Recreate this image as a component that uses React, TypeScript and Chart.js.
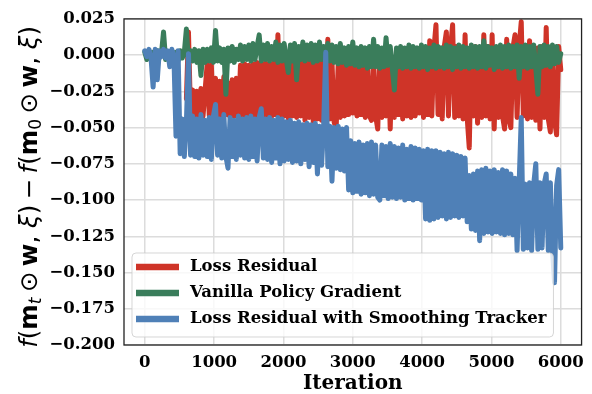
import { useEffect, useRef } from "react";
import { Chart, registerables } from "chart.js";

Chart.register(...registerables);

// Iteration index (one sample every 30 iterations, 0..6000)
const iterations = Array.from({ length: 201 }, (_, i) => i * 30);

const lossResidual: (number | null)[] = [
  null, null, null, null, null, null, null, null, null, null,
  null, null, null, null, null, null, null, null, null, null,
  -0.03, 0.016, -0.042, -0.024, -0.043, -0.025, -0.041, -0.023, -0.042, -0.024,
  -0.006, -0.042, -0.007, -0.043, -0.016, -0.042, -0.018, -0.043, -0.015, -0.041,
  -0.019, -0.043, -0.017, -0.042, -0.016, -0.044, -0.007, -0.042, -0.006, -0.043,
  -0.007, -0.041, -0.006, -0.043, -0.005, -0.042, -0.006, -0.044, -0.005, -0.042,
  -0.006, -0.043, -0.005, -0.041, 0.014, -0.043, -0.006, -0.042, -0.005, -0.044,
  -0.006, -0.042, -0.005, -0.043, -0.006, -0.042, 0.004, -0.045, -0.005, -0.043,
  -0.004, -0.046, 0.003, -0.044, -0.005, -0.045, -0.004, -0.047, 0.011, -0.044,
  -0.004, -0.046, -0.051, -0.005, -0.043, -0.004, -0.042, -0.003, -0.041, -0.004,
  -0.04, -0.003, -0.042, -0.004, -0.041, -0.003, -0.043, -0.002, -0.042, -0.045,
  -0.003, -0.042, -0.051, -0.002, -0.043, -0.003, -0.042, -0.002, -0.051, -0.003,
  -0.043, -0.002, -0.041, -0.001, -0.044, -0.002, -0.042, 0.001, -0.043, 0.002,
  -0.042, 0.001, -0.04, 0.003, -0.043, 0.002, -0.041, 0.01, -0.042, 0.004,
  0.021, -0.041, 0.005, -0.044, 0.006, 0.016, -0.042, 0.005, 0.021, -0.043,
  0.006, -0.042, 0.005, -0.044, 0.014, -0.043, -0.064, 0.005, -0.042, 0.006,
  -0.047, 0.005, -0.043, 0.014, -0.042, 0.006, -0.044, 0.014, -0.051, 0.005,
  -0.043, 0.006, -0.042, -0.051, 0.011, -0.044, -0.05, 0.005, 0.014, -0.043,
  0.006, 0.023, -0.042, 0.005, -0.044, 0.01, -0.043, 0.006, -0.045, 0.005,
  -0.051, 0.006, -0.043, 0.019, -0.044, -0.053, 0.005, -0.045, -0.055, 0.006,
  -0.01,
];

const vanillaPolicyGradient: number[] = [
  0.002, -0.003, 0.003, -0.002, 0.002, -0.003, 0.003, -0.002, 0.001, 0.016,
  -0.003, 0.002, -0.004, 0.003, -0.003, 0.002, -0.004, 0.003, -0.002, 0.002,
  0.018, -0.005, 0.003, -0.004, 0.004, -0.005, 0.003, -0.014, 0.004, -0.005,
  0.004, -0.004, 0.005, -0.005, 0.017, -0.004, 0.005, -0.005, 0.004, -0.027,
  0.005, -0.004, 0.006, -0.005, 0.004, -0.003, 0.007, -0.004, 0.006, -0.003,
  0.007, -0.004, 0.008, -0.003, 0.006, 0.014, -0.004, 0.007, -0.003, 0.008,
  -0.004, 0.006, -0.003, 0.009, -0.005, 0.007, -0.004, 0.008, -0.003, -0.012,
  0.007, -0.004, 0.008, -0.017, 0.006, -0.003, 0.009, -0.004, 0.007, -0.003,
  0.008, -0.005, 0.007, -0.004, 0.009, -0.003, 0.006, -0.005, 0.008, -0.004,
  0.007, -0.005, 0.006, -0.006, 0.008, -0.005, 0.005, -0.007, 0.006, -0.006,
  0.009, -0.007, 0.005, -0.008, 0.006, -0.007, 0.005, -0.009, 0.006, -0.008,
  0.011, -0.008, 0.006, -0.009, 0.005, -0.008, 0.012, -0.007, 0.006, -0.009,
  -0.024, 0.005, -0.008, 0.006, -0.009, 0.005, -0.008, 0.007, -0.009, 0.006,
  -0.008, 0.005, -0.009, 0.007, -0.008, 0.006, -0.01, 0.005, -0.008, 0.007,
  -0.009, 0.006, -0.008, 0.005, -0.009, 0.007, -0.008, 0.006, -0.01, 0.005,
  -0.008, 0.007, -0.009, 0.006, -0.008, 0.005, -0.009, 0.007, -0.008, 0.006,
  -0.009, 0.006, -0.008, 0.01, -0.009, 0.006, -0.007, 0.005, -0.01, 0.006,
  -0.008, 0.007, -0.009, 0.006, -0.008, 0.007, -0.009, 0.006, -0.008, 0.007,
  -0.016, 0.006, -0.008, 0.007, -0.009, 0.006, -0.008, 0.007, -0.009, -0.027,
  0.006, -0.008, 0.007, -0.007, 0.006, -0.008, 0.007, -0.006, 0.006, -0.005,
  0.001,
];

const smoothingTracker: number[] = [
  0.003, -0.001, 0.004, -0.002, -0.022, 0.004, -0.017, 0.003, -0.001, 0.004,
  -0.002, 0.003, -0.008, 0.004, -0.001, -0.056, 0.003, -0.068, -0.044, -0.07,
  -0.046, 0.001, -0.069, -0.042, -0.07, -0.044, -0.071, -0.041, -0.069, -0.045,
  -0.07, -0.043, -0.072, -0.042, -0.034, -0.069, -0.044, -0.071, -0.041, -0.07,
  -0.078, -0.043, -0.07, -0.045, -0.072, -0.042, -0.069, -0.044, -0.071, -0.043,
  -0.072, -0.042, -0.07, -0.044, -0.073, -0.043, -0.037, -0.071, -0.044, -0.072,
  -0.043, -0.074, -0.045, -0.071, -0.043, -0.075, -0.044, -0.073, -0.046, -0.072,
  -0.045, -0.074, -0.047, -0.073, -0.046, -0.075, -0.048, -0.072, -0.047, -0.077,
  -0.048, -0.074, -0.047, -0.082, -0.049, -0.076, -0.048, 0.002, -0.077, -0.049,
  -0.087, -0.05, -0.078, -0.049, -0.079, -0.051, -0.08, -0.05, -0.093, -0.059,
  -0.095, -0.061, -0.094, -0.06, -0.096, -0.062, -0.095, -0.061, -0.097, -0.06,
  -0.096, -0.062, -0.098, -0.1, -0.062, -0.097, -0.063, -0.099, -0.061, -0.098,
  -0.063, -0.099, -0.064, -0.098, -0.062, -0.1, -0.065, -0.099, -0.063, -0.1,
  -0.064, -0.099, -0.065, -0.1, -0.066, -0.113, -0.065, -0.114, -0.066, -0.113,
  -0.066, -0.112, -0.067, -0.111, -0.068, -0.113, -0.067, -0.112, -0.068, -0.111,
  -0.069, -0.112, -0.07, -0.111, -0.071, -0.115, -0.083, -0.12, -0.082, -0.121,
  -0.08, -0.128, -0.079, -0.123, -0.078, -0.122, -0.08, -0.123, -0.079, -0.122,
  -0.081, -0.123, -0.079, -0.124, -0.08, -0.123, -0.082, -0.124, -0.085, -0.135,
  -0.088, -0.043, -0.134, -0.089, -0.133, -0.088, -0.135, -0.089, -0.075, -0.134,
  -0.088, -0.133, -0.089, -0.082, -0.135, -0.088, -0.134, -0.157, -0.09, -0.079,
  -0.133,
];

const legendLabels = [
  "Loss Residual",
  "Vanilla Policy Gradient",
  "Loss Residual with Smoothing Tracker",
];

const xTicks = [0, 1000, 2000, 3000, 4000, 5000, 6000];
const xTickLabels = ["0", "1000", "2000", "3000", "4000", "5000", "6000"];
const yTicks = [-0.2, -0.175, -0.15, -0.125, -0.1, -0.075, -0.05, -0.025, 0, 0.025];
const yTickLabels = [
  "\u22120.200", "\u22120.175", "\u22120.150", "\u22120.125", "\u22120.100",
  "\u22120.075", "\u22120.050", "\u22120.025", "0.000", "0.025",
];

const RED = "#cf3428";
const GREEN = "#3a7d5b";
const BLUE = "#4f80b7";
const seriesColors = [RED, GREEN, BLUE];

const TICK_FONT = { family: "'DejaVu Serif'", size: 16.5, weight: "bold" as const };

type Part = { t: string; s: "normal" | "italic" | "bold"; sub?: boolean; op?: boolean };
const yLabelParts: Part[] = [
  { t: "f", s: "italic" }, { t: "(", s: "normal" }, { t: "m", s: "bold" }, { t: "t", s: "italic", sub: true },
  { t: "\u2299", s: "normal", op: true }, { t: "w", s: "bold" }, { t: ", ", s: "normal" }, { t: "\u03be", s: "italic" },
  { t: ")", s: "normal" }, { t: "\u2212", s: "normal", op: true },
  { t: "f", s: "italic" }, { t: "(", s: "normal" }, { t: "m", s: "bold" }, { t: "0", s: "normal", sub: true },
  { t: "\u2299", s: "normal", op: true }, { t: "w", s: "bold" }, { t: ", ", s: "normal" }, { t: "\u03be", s: "italic" },
  { t: ")", s: "normal" },
];

const framePlugin = {
  id: "frame",
  afterDatasetsDraw(chart: any) {
    const { ctx, chartArea: a } = chart;
    ctx.save();
    ctx.strokeStyle = "#222";
    ctx.lineWidth = 1.3;
    ctx.strokeRect(a.left, a.top, a.right - a.left, a.bottom - a.top);
    ctx.restore();
  },
};

const yLabelPlugin = {
  id: "yLabel",
  afterDraw(chart: any) {
    const { ctx, chartArea: a } = chart;
    const size = 24.5;
    const fontOf = (p: Part) => {
      const sz = p.sub ? size * 0.7 : size;
      const style = p.s === "italic" ? "italic " : p.s === "bold" ? "bold " : "";
      return `${style}${sz}px 'DejaVu Sans'`;
    };
    ctx.save();
    let total = 0;
    const widths = yLabelParts.map((p) => {
      ctx.font = fontOf(p);
      const w = ctx.measureText(p.t).width + (p.op ? size * 0.44 : 0);
      total += w;
      return w;
    });
    const cy = (a.top + a.bottom) / 2 + 5;
    ctx.translate(37, cy);
    ctx.rotate(-Math.PI / 2);
    ctx.fillStyle = "#000";
    ctx.textBaseline = "alphabetic";
    ctx.textAlign = "left";
    let x = -total / 2;
    yLabelParts.forEach((p, i) => {
      ctx.font = fontOf(p);
      const dx = p.op ? size * 0.22 : 0;
      ctx.fillText(p.t, x + dx, p.sub ? size * 0.18 : 0);
      x += widths[i];
    });
    ctx.restore();
  },
};

const legendPlugin = {
  id: "insideLegend",
  afterDraw(chart: any) {
    const { ctx, chartArea: a } = chart;
    ctx.save();
    ctx.font = "bold 16.5px 'DejaVu Serif'";
    const textW = Math.max(...legendLabels.map((l) => ctx.measureText(l).width));
    const rowH = 26;
    const h = rowH * legendLabels.length + 6;
    const left = a.left + 8;
    const top = a.bottom - 8 - h;
    const w = 58 + textW + 7;
    ctx.beginPath();
    ctx.roundRect(left, top, w, h, 4);
    ctx.fillStyle = "rgba(255,255,255,0.8)";
    ctx.fill();
    ctx.strokeStyle = "rgba(204,204,204,0.8)";
    ctx.lineWidth = 1;
    ctx.stroke();
    legendLabels.forEach((label, i) => {
      const cy = top + 14 + i * rowH;
      ctx.beginPath();
      ctx.moveTo(left + 4, cy);
      ctx.lineTo(left + 47, cy);
      ctx.strokeStyle = seriesColors[i];
      ctx.lineWidth = 6.5;
      ctx.lineCap = "butt";
      ctx.stroke();
      ctx.fillStyle = "#000";
      ctx.textBaseline = "middle";
      ctx.textAlign = "left";
      ctx.fillText(label, left + 58, cy);
    });
    ctx.restore();
  },
};

const toPoints = (vals: (number | null)[]) => iterations.map((x, i) => ({ x, y: vals[i] }));

export default function App() {
  const ref = useRef<HTMLCanvasElement>(null);
  useEffect(() => {
    document.body.style.margin = "0";
    const lineStyle = {
      borderWidth: 5,
      pointRadius: 0,
      pointHoverRadius: 0,
      tension: 0,
      fill: false,
      borderCapStyle: "round" as const,
      borderJoinStyle: "round" as const,
      spanGaps: false,
    };
    const chart = new Chart(ref.current!, {
      type: "line",
      data: {
        datasets: [
          { label: legendLabels[2], data: toPoints(smoothingTracker), borderColor: BLUE, backgroundColor: BLUE, ...lineStyle },
          { label: legendLabels[1], data: toPoints(vanillaPolicyGradient), borderColor: GREEN, backgroundColor: GREEN, ...lineStyle },
          { label: legendLabels[0], data: toPoints(lossResidual), borderColor: RED, backgroundColor: RED, ...lineStyle },
        ],
      },
      options: {
        animation: false,
        responsive: false,
        devicePixelRatio: 1,
        layout: { padding: { left: 0, right: 6, top: 16, bottom: 0 } },
        plugins: { legend: { display: false }, tooltip: { enabled: false } },
        scales: {
          x: {
            type: "linear",
            min: -300,
            max: 6300,
            afterBuildTicks: (scale: any) => {
              scale.ticks = xTicks.map((v) => ({ value: v }));
            },
            afterFit: (scale: any) => {
              scale.height = 49;
            },
            ticks: {
              autoSkip: false,
              maxRotation: 0,
              padding: 8,
              color: "#000",
              font: TICK_FONT,
              callback: (_v: any, i: number) => xTickLabels[i],
            },
            grid: { color: "#dcdcdc", lineWidth: 1.5, drawTicks: false },
            border: { display: false },
            title: {
              display: true,
              text: "Iteration",
              color: "#000",
              font: { family: "'DejaVu Serif'", size: 20, weight: "bold", lineHeight: 1 },
              padding: { top: 0, bottom: 0 },
            },
          },
          y: {
            type: "linear",
            min: -0.2,
            max: 0.025,
            afterBuildTicks: (scale: any) => {
              scale.ticks = yTicks.map((v) => ({ value: v }));
            },
            afterFit: (scale: any) => {
              scale.width = 124;
            },
            ticks: {
              autoSkip: false,
              padding: 9,
              color: "#000",
              font: TICK_FONT,
              callback: (_v: any, i: number) => yTickLabels[i],
            },
            grid: { color: "#dcdcdc", lineWidth: 1.5, drawTicks: false },
            border: { display: false },
          },
        },
      },
      plugins: [framePlugin, yLabelPlugin, legendPlugin],
    });
    return () => chart.destroy();
  }, []);
  return (
    <div style={{ position: "absolute", left: 0, top: 0, width: 592, height: 394 }}>
      <canvas ref={ref} width={592} height={394} style={{ display: "block" }} />
    </div>
  );
}
